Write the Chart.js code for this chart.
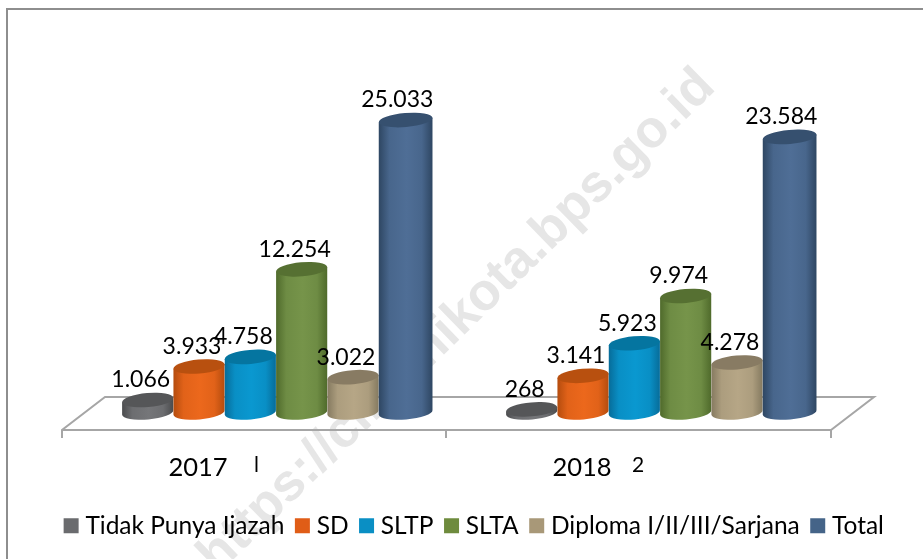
<!DOCTYPE html>
<html>
<head>
<meta charset="utf-8">
<style>
html,body{margin:0;padding:0;background:#fff;overflow:hidden;width:923px;height:559px}
#frame{position:absolute;left:6px;top:8px;width:1000px;height:700px;border-left:2px solid #8e8e8e;border-top:2px solid #8e8e8e}
#wrap{position:absolute;left:30px;top:0;width:893px;height:559px}
</style>
<script src="https://cdn.jsdelivr.net/npm/chart.js@4/dist/chart.umd.min.js"></script>
</head>
<body>
<div id="frame"></div>
<div id="wrap"><canvas id="c" width="893" height="559"></canvas></div>
<script>
const categories = ['2017', '2018'];
const tidakPunyaIjazah = [1066, 268];
const sd = [3933, 3141];
const sltp = [4758, 5923];
const slta = [12254, 9974];
const diploma = [3022, 4278];
const total = [25033, 23584];
const seriesNames = ['Tidak Punya Ijazah', 'SD', 'SLTP', 'SLTA', 'Diploma I/II/III/Sarjana', 'Total'];
const strayMarks = ['l', '2'];
const watermark = 'https://cimahikota.bps.go.id';

const legendColors = ['#6a6b6e', '#e05d17', '#0a8fc4', '#6e8b3d', '#a89878', '#456488'];
const midColors = ['#757679', '#ec681c', '#0a98d0', '#76944a', '#b6a686', '#4f6e96'];
const edgeColors = ['#4a4b4d', '#b44c0e', '#076c99', '#4f6a2b', '#857a60', '#2e4662'];
const topColors = ['#555658', '#b8500f', '#0575a0', '#567032', '#887b63', '#36506f'];
const FONT = 'Lato';
const FLOOR = '#a6a6a6';

const allSeries = [tidakPunyaIjazah, sd, sltp, slta, diploma, total];

function fmt(v) { return String(v).replace(/\B(?=(\d{3})+$)/g, '.'); }
function mix(a, b, t) {
  const p = s => [1, 3, 5].map(k => parseInt(s.substr(k, 2), 16));
  const A = p(a), B = p(b);
  return 'rgb(' + A.map((v, k) => Math.round(v + (B[k] - v) * t)).join(',') + ')';
}

const cylinders = {
  id: 'cylinders',
  beforeDraw(chart) {
    const ctx = chart.ctx;
    ctx.save();
    ctx.translate(717 - 30, 89);
    ctx.rotate(-44.2 * Math.PI / 180);
    ctx.font = 'bold 52.5px "Liberation Sans"';
    ctx.fillStyle = '#e6e6e6';
    ctx.textAlign = 'right';
    ctx.textBaseline = 'alphabetic';
    ctx.fillText(watermark, 0, 0);
    ctx.restore();
  },
  beforeDatasetsDraw(chart) {
    const ctx = chart.ctx;
    const area = chart.chartArea;
    const xs = chart.scales.x;
    const base = chart.scales.y.getPixelForValue(0);
    const front = base + 17.5, back = base - 15.5;
    const dx = 22;
    const L = area.left - dx, R = area.right - dx + 1;

    ctx.save();
    ctx.strokeStyle = FLOOR;
    ctx.lineWidth = 2;
    ctx.beginPath();
    ctx.moveTo(L, front + 8); ctx.lineTo(L, front);
    ctx.lineTo(L + 43, back); ctx.lineTo(R + 43, back);
    ctx.lineTo(R, front); ctx.lineTo(L, front);
    ctx.moveTo(R, front); ctx.lineTo(R, front + 8);
    const mid = (xs.getPixelForValue(0) + xs.getPixelForValue(1)) / 2 - dx;
    ctx.moveTo(mid, front); ctx.lineTo(mid, front + 8);
    ctx.stroke();
    ctx.restore();

    const rot = -5 * Math.PI / 180;
    const last = allSeries.length - 1;
    categories.forEach((c, j) => {
      allSeries.forEach((s, i) => {
        const el = chart.getDatasetMeta(i).data[j];
        const extra = i === last ? 2.6 : 0;
        const rx = el.width / 2 + extra / 2;
        const ry = 7;
        const cx = el.x + extra / 2;
        const top = el.y;
        const cos = Math.cos(rot), sin = Math.sin(rot);
        const g = ctx.createLinearGradient(cx - rx, 0, cx + rx, 0);
        g.addColorStop(0, edgeColors[i]);
        g.addColorStop(0.2, mix(edgeColors[i], midColors[i], 0.8));
        g.addColorStop(0.52, midColors[i]);
        g.addColorStop(0.8, mix(edgeColors[i], midColors[i], 0.8));
        g.addColorStop(1, edgeColors[i]);
        ctx.beginPath();
        ctx.ellipse(cx, base, rx, ry, rot, 0, Math.PI);
        ctx.lineTo(cx - rx * cos, top - rx * sin);
        ctx.lineTo(cx + rx * cos, top + rx * sin);
        ctx.closePath();
        ctx.fillStyle = g;
        ctx.fill();
        ctx.beginPath();
        ctx.ellipse(cx, top, rx, ry, rot, 0, Math.PI * 2);
        ctx.fillStyle = topColors[i];
        ctx.fill();
      });
    });

    ctx.save();
    ctx.font = '23px ' + FONT;
    ctx.fillStyle = '#000';
    ctx.textAlign = 'center';
    ctx.textBaseline = 'middle';
    categories.forEach((c, j) => {
      allSeries.forEach((s, i) => {
        const el = chart.getDatasetMeta(i).data[j];
        ctx.fillText(fmt(s[j]), el.x - 7, el.y - 20);
      });
    });
    ctx.font = '21px ' + FONT;
    strayMarks.forEach((m, j) => {
      const px = xs.getPixelForValue(j) + (j === 0 ? -19.5 : -22);
      ctx.fillText(m, px, 465);
    });
    ctx.restore();
    return false;
  }
};

new Chart(document.getElementById('c'), {
  type: 'bar',
  data: {
    labels: categories,
    datasets: allSeries.map((s, i) => ({
      label: seriesNames[i],
      data: s,
      backgroundColor: legendColors[i],
      yAxisID: 'y',
      categoryPercentage: 0.802,
      barPercentage: 1
    }))
  },
  plugins: [cylinders],
  options: {
    responsive: false,
    animation: false,
    layout: { padding: { left: 0, right: 0, top: 62, bottom: 11 } },
    plugins: {
      title: { display: false },
      tooltip: { enabled: false },
      legend: {
        position: 'bottom',
        labels: {
          boxWidth: 4,
          boxHeight: 4,
          padding: 16,
          color: '#000',
          font: { family: FONT, size: 24.5 },
          generateLabels(chart) {
            return chart.data.datasets.map((d, i) => ({
              text: d.label,
              fillStyle: legendColors[i],
              strokeStyle: legendColors[i],
              lineWidth: 11,
              datasetIndex: i,
              fontColor: '#000'
            }));
          }
        }
      }
    },
    scales: {
      x: {
        grid: { display: false },
        border: { display: false },
        ticks: { padding: 32, labelOffset: -78, color: '#000', font: { family: FONT, size: 25.5 }, maxRotation: 0 },
        afterFit(s) { s.height = 85; }
      },
      y: {
        min: 0, max: 30000, position: 'left',
        grid: { display: false }, border: { display: false }, ticks: { display: false },
        afterFit(s) { s.width = 54; }
      },
      y2: {
        min: 0, max: 30000, position: 'right',
        grid: { display: false }, border: { display: false }, ticks: { display: false },
        afterFit(s) { s.width = 71; }
      }
    }
  }
});
</script>
</body>
</html>
